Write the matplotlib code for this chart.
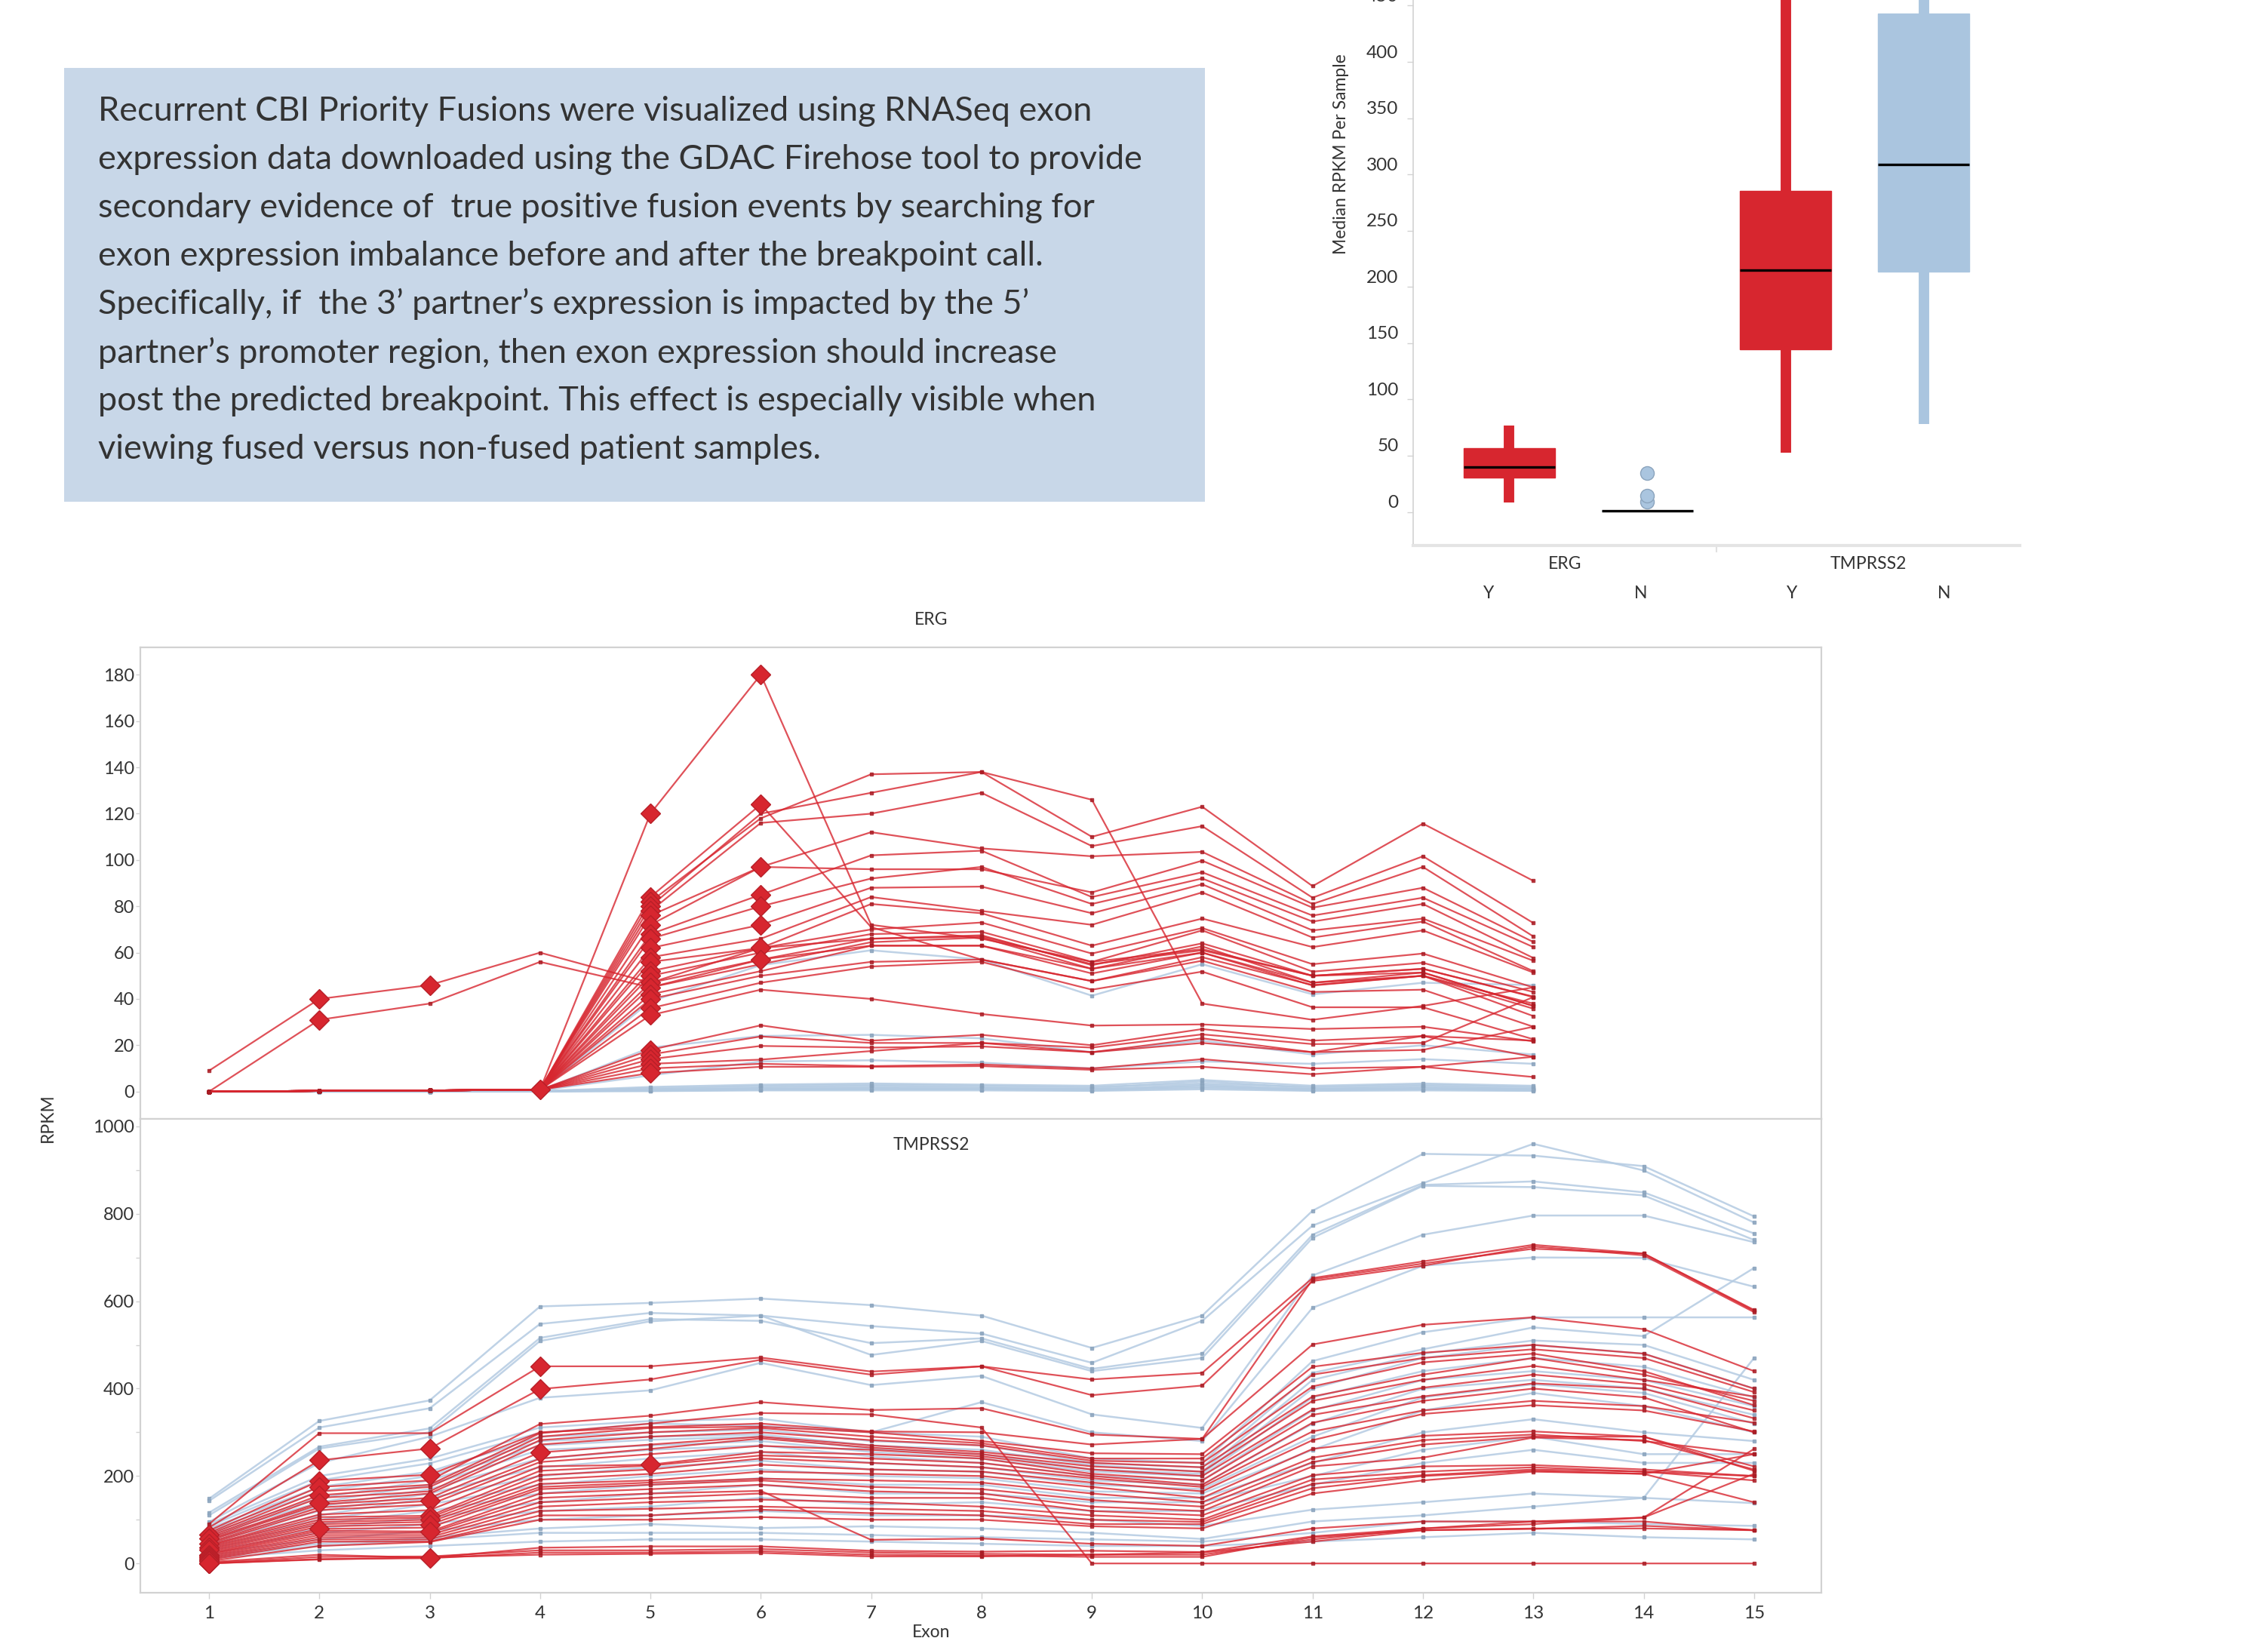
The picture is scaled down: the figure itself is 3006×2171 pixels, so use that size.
import matplotlib
matplotlib.use("Agg")
import matplotlib.pyplot as plt
from matplotlib.patches import Rectangle
from matplotlib.ticker import MultipleLocator, FuncFormatter
from matplotlib.transforms import ScaledTranslation

plt.rcParams['font.family'] = ['Lato', 'DejaVu Sans']

W, H = 3006, 2171
RED = '#d7262f'
RED_DARK = '#a81c24'
BLUE = '#aac5df'
BLUE_LINE = '#b4cbe2'
BLUE_DARK = '#8ba4bd'
FRAME = '#d2d2d2'
TXT = '#333333'

# --- summary text ---
blurb_lines = [
    "Recurrent CBI Priority Fusions were visualized using RNASeq exon",
    "expression data downloaded using the GDAC Firehose tool to provide",
    "secondary evidence of  true positive fusion events by searching for",
    "exon expression imbalance before and after the breakpoint call.",
    "Specifically, if  the 3\u2019 partner\u2019s expression is impacted by the 5\u2019",
    "partner\u2019s promoter region, then exon expression should increase",
    "post the predicted breakpoint. This effect is especially visible when",
    "viewing fused versus non-fused patient samples.",
]

# --- median RPKM per sample (box plot) ---
box_genes = ['ERG', 'TMPRSS2']
box_fused = ['Y', 'N', 'Y', 'N']
box_q1 = [30.5, 0.8, 144.6, 213.7]
box_med = [40.0, 1.0, 215.0, 309.0]
box_q3 = [56.8, 1.2, 285.6, 442.8]
box_lo = [8.4, 0.0, 52.6, 78.0]
box_hi = [77.0, 2.0, 620.0, 560.0]
box_fliers = [[], [8.8, 14.7, 34.7], [], []]

# --- ERG exon RPKM ---
erg_exons = list(range(1, 14))
erg_fused = [
    [9, 40, 46, 60, 47, 62, 66, 67, 55, 61, 50, 53, 41],
    [0, 31, 38, 56, 45, 57, 63, 63, 53, 60, 47, 50, 38],
    [0, 0.3, 0.5, 0.8, 120, 180, 72, 66, 56, 61.5, 50, 51.4, 37],
    [0, 0.3, 0.5, 0.8, 84, 124, 71, 57, 47.7, 58, 46, 50, 35.8],
    [0, 0.3, 0.5, 0.8, 82, 118, 137, 138, 110, 123, 88.7, 115.7, 91],
    [0, 0.3, 0.5, 0.8, 80, 120, 129, 138, 126, 38, 31, 37, 45],
    [0, 0.3, 0.5, 0.8, 78, 116, 120, 129, 106, 114.6, 83.7, 101.6, 72.8],
    [0, 0.3, 0.5, 0.8, 76, 97, 112, 105, 101.6, 103.5, 81, 97, 67],
    [0, 0.3, 0.5, 0.8, 72, 97, 96, 96, 86, 99.7, 79.4, 88, 64.6],
    [0, 0.3, 0.5, 0.8, 68, 85, 102, 104, 84, 94.7, 76, 83.7, 62.4],
    [0, 0.3, 0.5, 0.8, 66, 80, 92, 97, 81, 92, 73.4, 81, 57.7],
    [0, 0.3, 0.5, 0.8, 62, 72, 88, 88.5, 77, 89.5, 69.6, 74.7, 56.5],
    [0, 0.3, 0.5, 0.8, 58, 66, 84, 78, 72, 86, 66.5, 73.4, 52],
    [0, 0.3, 0.5, 0.8, 56, 62, 81, 77, 63, 74.7, 62.4, 69.6, 51.4],
    [0, 0.3, 0.5, 0.8, 52, 62, 70, 73, 59.6, 70.6, 55, 59.6, 45],
    [0, 0.3, 0.5, 0.8, 50, 60, 68, 69, 56, 69.6, 51.8, 55.6, 43],
    [0, 0.3, 0.5, 0.8, 47, 57, 66, 67.5, 54.6, 64, 50, 53, 40.8],
    [0, 0.3, 0.5, 0.8, 45, 55, 64.5, 66.5, 53, 62.7, 47, 51.4, 37],
    [0, 0.3, 0.5, 0.8, 42, 52, 63, 63, 51, 60, 45.8, 50, 32.6],
    [0, 0.3, 0.5, 0.8, 40, 50, 56, 57, 47.7, 56.5, 43, 44, 28],
    [0, 0.3, 0.5, 0.8, 36, 47, 54, 56, 44, 51.8, 36.4, 36.4, 22.6],
    [0, 0.3, 0.5, 0.8, 33, 44, 40, 33.5, 28.5, 29, 27, 28, 21.7],
    [0, 0.3, 0.5, 0.8, 18, 28.6, 22, 24.5, 20, 27, 22, 24, 15],
    [0, 0.3, 0.5, 0.8, 16, 23.8, 21, 21, 19, 24.7, 20.5, 21, 40.8],
    [0, 0.3, 0.5, 0.8, 14, 19.7, 19, 19.5, 17, 23, 17, 18, 28],
    [0, 0.3, 0.5, 0.8, 12, 13.8, 17.5, 21, 17, 21, 17, 24, 22],
    [0, 0.3, 0.5, 0.8, 10, 12, 11, 11.7, 10, 14, 10, 10.7, 15],
    [0, 0.3, 0.5, 0.8, 8, 10.7, 10.7, 11, 9.4, 10.7, 7.5, 10.7, 6.3],
]
erg_breaks = [[2, 3], [2], [5, 6], [5, 6], [5], [5], [5], [5, 6], [5], [5, 6],
              [5, 6], [5, 6], [5], [5, 6], [5], [5], [5, 6], [5], [5], [5],
              [5], [5], [5], [5], [5], [5], [5], [4, 5]]
erg_unfused = [
    [0, 0, 0, 0.5, 38.9, 54.6, 61, 57, 41.4, 55, 42, 47, 46],
    [0, 0, 0, 0.5, 19, 24, 24.5, 23, 17, 22, 16, 20, 16],
    [0, 0, 0, 0.5, 7, 13, 13.5, 12.5, 10, 13, 12, 14, 12],
    [0, 0, 0, 0, 0.5, 1.5, 2, 1.5, 1, 3, 1, 2, 1],
    [0, 0, 0, 0, 1, 2, 2.5, 2, 1.5, 4.4, 1.5, 2.5, 1.5],
    [0, 0, 0, 0.2, 1.5, 2.5, 3, 2.5, 2, 3.5, 2, 3, 2],
    [0, 0, 0, 0.2, 2, 3, 3.5, 3, 2.5, 5, 2.5, 3.5, 2.5],
    [0, 0, 0, 0.2, 0.3, 0.8, 1, 1, 0.5, 1.5, 0.5, 1, 0.5],
    [0, 0, 0, 0.1, 0.2, 0.5, 0.5, 0.5, 0.3, 1, 0.3, 0.5, 0.3],
    [0, 0, 0, 0.1, 1, 1, 1.5, 1.2, 1, 2, 1, 1.5, 1],
    [0, 0, 0, 0.1, 0.6, 1.2, 1.2, 1, 0.8, 2.5, 0.8, 1.2, 0.8],
]

# --- TMPRSS2 exon RPKM ---
tmp_exons = list(range(1, 16))
tmp_fused = [
    [90, 298, 298, 451, 451, 471, 439, 451, 421, 436, 653, 691, 729, 709, 580],
    [82, 236, 263, 399, 421, 466, 432, 451, 385, 407, 646, 681, 725, 705, 575],
    [75, 189, 203, 300, 312, 320, 302, 300, 272, 285, 650, 686, 720, 709, 578],
    [70, 175, 190, 319, 338, 369, 351, 355, 295, 285, 501, 546, 563, 536, 440],
    [66, 165, 180, 298, 320, 344, 341, 311, 0, 0, 0, 0, 0, 0, 0],
    [62, 156, 175, 290, 310, 313, 300, 280, 252, 250, 450, 482, 500, 480, 400],
    [58, 150, 165, 282, 300, 310, 290, 275, 240, 240, 432, 470, 490, 470, 392],
    [55, 139, 160, 272, 290, 300, 282, 270, 235, 230, 405, 460, 480, 440, 362],
    [52, 135, 150, 254, 272, 290, 270, 255, 230, 220, 382, 432, 470, 432, 372],
    [48, 128, 143, 240, 262, 286, 265, 250, 222, 210, 372, 420, 452, 420, 382],
    [45, 122, 135, 232, 250, 269, 260, 245, 215, 200, 352, 402, 432, 410, 350],
    [42, 112, 122, 222, 226, 255, 250, 240, 205, 190, 340, 382, 412, 400, 332],
    [40, 106, 109, 212, 224, 247, 240, 230, 200, 180, 322, 372, 400, 380, 300],
    [37, 100, 105, 202, 215, 240, 230, 220, 195, 175, 302, 350, 372, 360, 322],
    [34, 95, 100, 192, 205, 226, 215, 210, 185, 165, 282, 342, 362, 350, 302],
    [31, 90, 95, 182, 190, 210, 205, 200, 175, 150, 262, 292, 302, 290, 222],
    [28, 85, 89, 175, 185, 194, 190, 185, 160, 140, 242, 282, 295, 280, 250],
    [25, 79, 82, 170, 180, 190, 175, 170, 145, 130, 232, 272, 290, 290, 212],
    [22, 75, 73, 160, 170, 180, 165, 160, 130, 120, 222, 242, 288, 282, 215],
    [20, 70, 70, 150, 160, 166, 54, 57, 45, 40, 80, 96, 96, 96, 76],
    [17, 65, 65, 140, 150, 160, 150, 150, 120, 110, 202, 222, 225, 215, 200],
    [14, 60, 60, 130, 140, 146, 140, 130, 110, 100, 192, 210, 220, 210, 200],
    [11, 55, 55, 120, 125, 130, 125, 120, 100, 95, 182, 202, 215, 210, 190],
    [8, 50, 50, 110, 110, 123, 115, 110, 90, 90, 172, 200, 212, 205, 250],
    [5, 40, 49, 100, 100, 106, 100, 100, 85, 80, 160, 190, 210, 205, 140],
    [3, 20, 13, 36, 39, 39, 29, 27, 29, 26, 62, 80, 96, 105, 262],
    [1, 15, 16, 30, 30, 33, 25, 22, 20, 20, 55, 80, 90, 105, 205],
    [0, 10, 12, 25, 25, 28, 20, 18, 15, 15, 60, 76, 79, 86, 76],
    [0, 9, 14, 20, 22, 24, 16, 16, 20, 25, 50, 76, 80, 80, 76],
]
tmp_breaks = [[4], [2, 3, 4], [2, 3], [2], [1], [2], [1], [2], [4], [3],
              [1], [5], [3], [1], [3], [1], [3], [2], [3], [1],
              [1], [1], [1], [1], [1], [3], [1], [1], [1]]
tmp_unfused = [
    [148, 326, 373, 588, 596, 606, 591, 567, 493, 567, 807, 937, 933, 909, 794],
    [143, 311, 355, 548, 573, 567, 543, 526, 459, 555, 773, 870, 960, 899, 780],
    [116, 267, 309, 516, 559, 555, 504, 515, 445, 480, 752, 866, 874, 849, 755],
    [110, 263, 300, 509, 554, 567, 477, 509, 440, 470, 745, 864, 861, 842, 740],
    [95, 230, 290, 379, 396, 459, 408, 429, 341, 310, 659, 752, 796, 796, 735],
    [90, 200, 240, 311, 326, 331, 300, 369, 300, 280, 585, 681, 700, 699, 633],
    [85, 190, 229, 299, 320, 315, 300, 290, 240, 230, 463, 529, 563, 563, 563],
    [80, 175, 210, 290, 300, 306, 280, 270, 230, 220, 436, 490, 540, 520, 676],
    [75, 165, 200, 280, 290, 295, 270, 260, 225, 210, 420, 480, 510, 500, 420],
    [70, 150, 190, 270, 283, 290, 262, 250, 215, 205, 400, 470, 500, 480, 400],
    [65, 140, 180, 260, 270, 280, 255, 240, 210, 200, 380, 440, 470, 450, 380],
    [60, 130, 170, 240, 260, 270, 245, 230, 200, 190, 350, 420, 440, 420, 360],
    [55, 120, 160, 220, 240, 255, 230, 220, 190, 180, 320, 400, 420, 400, 340],
    [50, 110, 150, 200, 220, 235, 215, 210, 180, 170, 290, 380, 410, 390, 320],
    [45, 100, 135, 180, 200, 215, 200, 195, 165, 160, 260, 350, 390, 360, 300],
    [40, 90, 120, 160, 180, 195, 180, 180, 150, 150, 230, 300, 330, 300, 280],
    [35, 80, 105, 140, 160, 180, 160, 160, 140, 140, 200, 260, 290, 250, 250],
    [30, 70, 90, 120, 130, 150, 135, 140, 120, 120, 180, 230, 260, 230, 230],
    [25, 55, 75, 100, 110, 120, 110, 110, 100, 86, 123, 140, 160, 150, 138],
    [20, 45, 60, 80, 90, 81, 85, 80, 70, 56, 96, 110, 130, 150, 470],
    [15, 40, 55, 70, 70, 70, 65, 60, 55, 50, 70, 96, 96, 90, 86],
    [12, 30, 40, 50, 55, 55, 50, 45, 40, 40, 50, 60, 70, 60, 55],
]


def fig_rect(left, top, right, bottom):
    # pixel box -> figure fraction [x, y, w, h]
    return [left / W, 1 - bottom / H, (right - left) / W, (bottom - top) / H]


def fig_text(x, y, s, **kw):
    fig.text(x / W, 1 - y / H, s, **kw)


fig = plt.figure(figsize=(W / 100, H / 100), dpi=100)

# text panel
fig.patches.append(Rectangle((85 / W, 1 - 665 / H), (1597 - 85) / W, (665 - 90) / H,
                             transform=fig.transFigure, facecolor='#c8d7e8',
                             edgecolor='none', zorder=0))
for i, line in enumerate(blurb_lines):
    fig_text(130, 147 + i * 64.1, line, fontsize=32.5, color=TXT, va='center', ha='left')

# ---- box plot ----
axb = fig.add_axes(fig_rect(1873, 0, 2677, 722.5))
stats = [dict(med=box_med[i], q1=box_q1[i], q3=box_q3[i], whislo=box_lo[i],
              whishi=box_hi[i], fliers=box_fliers[i]) for i in range(4)]
res = axb.bxp(stats, positions=range(4), widths=0.66, patch_artist=True, showcaps=False,
              medianprops=dict(color='black', lw=2.4),
              flierprops=dict(marker='o', ms=13, mfc=BLUE, mec=BLUE_DARK, mew=1))
for i, f in enumerate(box_fused):
    c = RED if f == 'Y' else BLUE
    res['boxes'][i].set_facecolor(c)
    res['boxes'][i].set_edgecolor(c)
    res['boxes'][i].set_zorder(3)
    for w in res['whiskers'][2 * i:2 * i + 2]:
        w.set_color(c)
        w.set_linewidth(10)
        w.set_solid_capstyle('butt')
    res['medians'][i].set_zorder(4)
axb.set_xlim(-0.693, 3.693)
axb.set_ylim(-29.5, 455)
axb.yaxis.set_major_locator(MultipleLocator(50))
axb.set_xticks([])
axb.tick_params(axis='y', length=6, width=1, color=FRAME, labelsize=17.5, labelcolor=TXT, pad=8)
# value labels sit a little above their tick marks
lift = ScaledTranslation(0, 0.14, fig.dpi_scale_trans)
for lab in axb.get_yticklabels():
    lab.set_transform(lab.get_transform() + lift)
for s in ['top', 'right']:
    axb.spines[s].set_visible(False)
axb.spines['left'].set_color(FRAME)
axb.spines['left'].set_linewidth(1.2)
axb.spines['bottom'].set_color('#e4e4e4')
axb.spines['bottom'].set_linewidth(3)
axb.plot([1.5, 1.5], [-29.5, -35], color='#e0e0e0', lw=1.5, clip_on=False)
fig_text(1778, 204, 'Median RPKM Per Sample', fontsize=16.5, color=TXT, rotation=90,
         ha='center', va='center')
for g, gene in enumerate(box_genes):
    fig_text(1873 + 804 * (2 * g + 1) / 4, 748, gene, fontsize=16.5, color=TXT,
             ha='center', va='center')
for i, f in enumerate(box_fused):
    fig_text(1873 + 804 * (i + 0.5) / 4, 786, f, fontsize=16.5, color=TXT,
             ha='center', va='center')


# ---- exon line panels ----
def draw_panel(ax, exons, unfused, fused, breaks):
    for row in unfused:
        ax.plot(exons, row, color=BLUE_LINE, lw=1.8, alpha=0.85, zorder=2,
                marker='s', ms=3.3, mfc=BLUE_DARK, mec=BLUE_DARK)
    for row in fused:
        ax.plot(exons, row, color=RED, lw=1.6, alpha=0.8, zorder=3,
                marker='s', ms=3.3, mfc=RED_DARK, mec=RED_DARK)
    for row, bp in zip(fused, breaks):
        for e in bp:
            ax.plot(e, row[e - 1], marker='D', ms=13, color=RED, mec='#b71f28',
                    mew=1, zorder=4)
    ax.set_xlim(0.378, 15.61)
    for s in ax.spines.values():
        s.set_color(FRAME)
        s.set_linewidth(1.6)
    ax.tick_params(axis='y', length=4, width=1, color=FRAME, labelsize=17,
                   labelcolor=TXT, pad=1.5)


def every_other(step):
    return FuncFormatter(lambda v, p: f"{v:.0f}" if round(v) % step == 0 else "")


ax1 = fig.add_axes(fig_rect(186, 858, 2414, 1483))
draw_panel(ax1, erg_exons, erg_unfused, erg_fused, erg_breaks)
ax1.set_ylim(-11.8, 191.8)
ax1.yaxis.set_major_locator(MultipleLocator(20))
ax1.set_xticks([])

ax2 = fig.add_axes(fig_rect(186, 1483, 2414, 2111))
draw_panel(ax2, tmp_exons, tmp_unfused, tmp_fused, tmp_breaks)
ax2.set_ylim(-67, 1017)
ax2.yaxis.set_major_locator(MultipleLocator(100))
ax2.yaxis.set_major_formatter(every_other(200))
ax2.set_xticks(tmp_exons)
ax2.tick_params(axis='x', length=6, width=1, color=FRAME, labelsize=17.5,
                labelcolor=TXT, pad=6)

fig_text(1234, 821, 'ERG', fontsize=16.5, color=TXT, ha='center', va='center')
fig_text(1234, 1518, 'TMPRSS2', fontsize=16.5, color=TXT, ha='center', va='center')
fig_text(1234, 2163, 'Exon', fontsize=16.5, color=TXT, ha='center', va='center')
fig_text(63, 1482, 'RPKM', fontsize=16.5, color=TXT, rotation=90, ha='center', va='center')

fig.savefig('out.png', dpi=100, facecolor='white')
